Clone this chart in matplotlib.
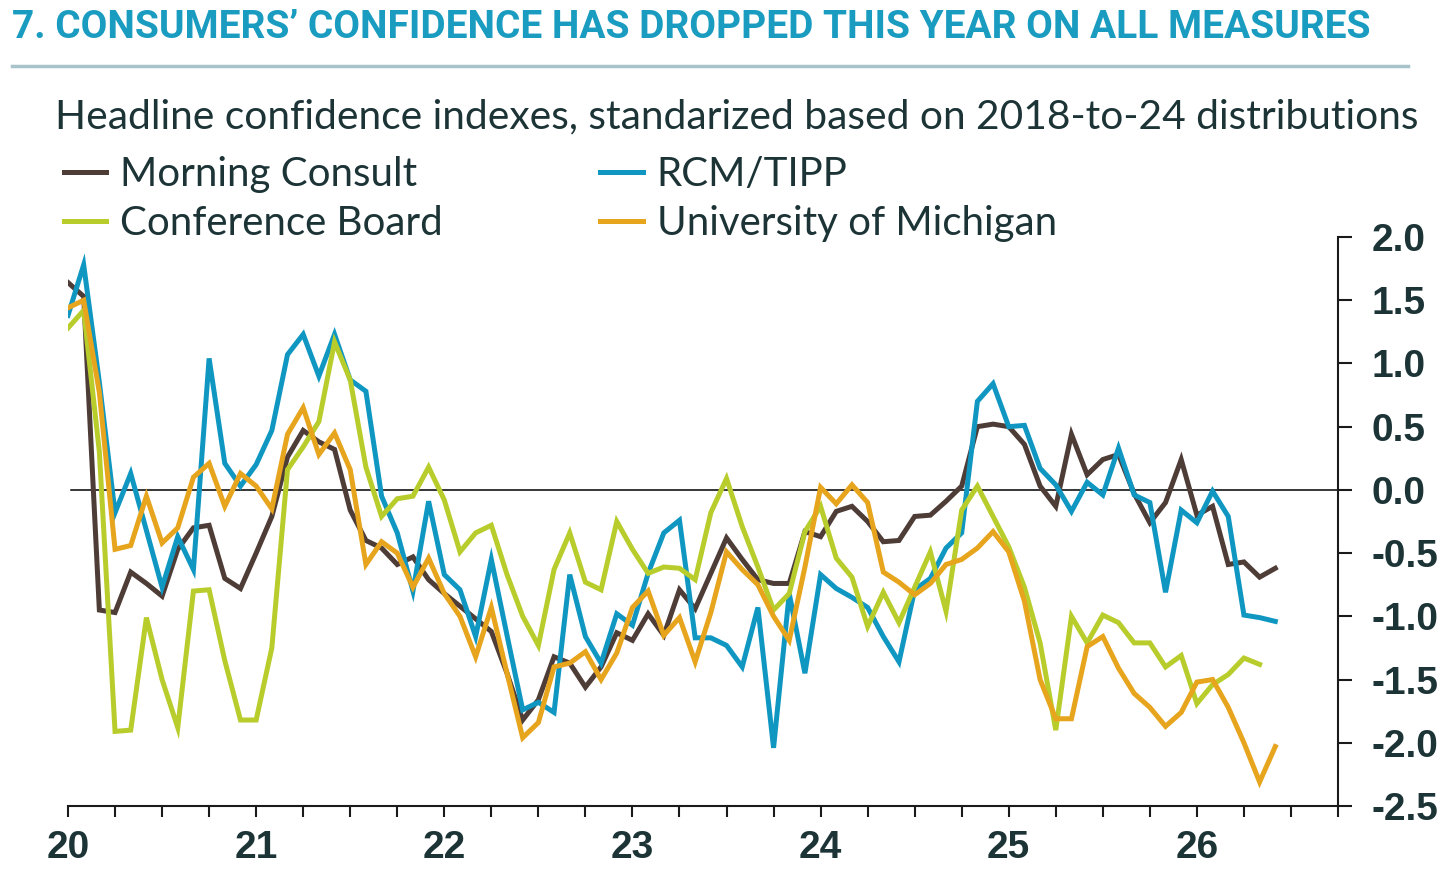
import matplotlib
matplotlib.use("Agg")
import matplotlib.pyplot as plt
import numpy as np
from matplotlib.lines import Line2D

# monthly values, Jan 2020 onwards
morning_consult = [1.64, 1.53, -0.95, -0.97, -0.65, -0.74, -0.84, -0.47, -0.30, -0.28,
                   -0.70, -0.78, -0.50, -0.21, 0.26, 0.47, 0.38, 0.32, -0.16, -0.40,
                   -0.46, -0.59, -0.53, -0.71, -0.82, -0.92, -1.02, -1.12, -1.45, -1.82,
                   -1.66, -1.32, -1.37, -1.56, -1.40, -1.13, -1.19, -0.98, -1.15, -0.79,
                   -0.94, -0.66, -0.38, -0.55, -0.71, -0.74, -0.74, -0.33, -0.37, -0.17,
                   -0.13, -0.25, -0.41, -0.40, -0.21, -0.20, -0.09, 0.03, 0.50, 0.52,
                   0.50, 0.36, 0.03, -0.13, 0.44, 0.12, 0.24, 0.28, -0.03, -0.26,
                   -0.10, 0.24, -0.20, -0.13, -0.59, -0.57, -0.69, -0.62]

rcm_tipp = [1.38, 1.78, 0.85, -0.18, 0.13, -0.32, -0.77, -0.37, -0.63, 1.04,
            0.21, 0.03, 0.20, 0.47, 1.07, 1.23, 0.90, 1.23, 0.87, 0.78,
            -0.05, -0.34, -0.80, -0.09, -0.67, -0.79, -1.16, -0.55, -1.15, -1.74,
            -1.68, -1.76, -0.67, -1.16, -1.37, -0.98, -1.07, -0.66, -0.34, -0.24,
            -1.17, -1.17, -1.23, -1.40, -0.93, -2.04, -0.82, -1.45, -0.67, -0.78,
            -0.85, -0.93, -1.16, -1.36, -0.79, -0.70, -0.46, -0.34, 0.70, 0.84,
            0.50, 0.51, 0.17, 0.04, -0.17, 0.06, -0.04, 0.33, -0.04, -0.10,
            -0.81, -0.16, -0.26, -0.01, -0.21, -0.99, -1.01, -1.04]

conference_board = [1.28, 1.42, 0.30, -1.91, -1.90, -1.01, -1.50, -1.88, -0.80, -0.79,
                    -1.35, -1.82, -1.82, -1.25, 0.16, 0.34, 0.54, 1.17, 0.87, 0.18,
                    -0.21, -0.07, -0.05, 0.18, -0.08, -0.49, -0.34, -0.28, -0.67, -1.00,
                    -1.23, -0.63, -0.34, -0.73, -0.79, -0.25, -0.47, -0.66, -0.61, -0.62,
                    -0.71, -0.18, 0.09, -0.29, -0.61, -0.95, -0.82, -0.33, -0.13, -0.54,
                    -0.69, -1.08, -0.81, -1.05, -0.77, -0.49, -0.96, -0.16, 0.03, -0.21,
                    -0.45, -0.77, -1.21, -1.90, -1.00, -1.21, -0.99, -1.05, -1.21, -1.21,
                    -1.40, -1.31, -1.69, -1.54, -1.46, -1.33, -1.38]

michigan = [1.44, 1.50, 0.77, -0.47, -0.44, -0.05, -0.42, -0.30, 0.10, 0.21,
            -0.13, 0.13, 0.03, -0.15, 0.44, 0.65, 0.28, 0.45, 0.16, -0.59,
            -0.41, -0.50, -0.77, -0.54, -0.82, -1.00, -1.32, -0.93, -1.45, -1.96,
            -1.84, -1.40, -1.37, -1.28, -1.50, -1.29, -0.93, -0.80, -1.15, -1.01,
            -1.36, -0.97, -0.49, -0.63, -0.75, -1.00, -1.19, -0.61, 0.02, -0.11,
            0.04, -0.10, -0.65, -0.73, -0.83, -0.74, -0.59, -0.55, -0.46, -0.33,
            -0.49, -0.88, -1.50, -1.81, -1.81, -1.24, -1.16, -1.41, -1.61, -1.72,
            -1.87, -1.76, -1.52, -1.50, -1.72, -2.00, -2.31, -2.03]

series = [
    ("Morning Consult", morning_consult, "#4e3c37"),
    ("RCM/TIPP", rcm_tipp, "#0f97c2"),
    ("Conference Board", conference_board, "#b8cd2c"),
    ("University of Michigan", michigan, "#e7a41d"),
]

y_ticks = [2.0, 1.5, 1.0, 0.5, 0.0, -0.5, -1.0, -1.5, -2.0, -2.5]

txt = "#1d3437"
title_col = "#1a9cc0"
W, H = 1456, 874

fig = plt.figure(figsize=(14.56, 8.74), dpi=100)
renderer = fig.canvas.get_renderer()


def fit_width(t, px):
    # shrink/grow a text so it spans px pixels
    w = t.get_window_extent(renderer).width
    t.set_fontsize(t.get_fontsize() * px / w)


ax = fig.add_axes([68 / W, 1 - 806 / H, (1338 - 68) / W, (806 - 237) / H])

for name, vals, col in series:
    x = 20 + np.arange(len(vals)) / 12
    ax.plot(x, vals, color=col, lw=3.6, label=name, solid_joinstyle="miter")

ax.axhline(0, color="black", lw=1.1, xmin=0.002, zorder=1)

ax.set_xlim(20, 26.75)
ax.set_ylim(-2.5, 2.0)
ax.spines["top"].set_visible(False)
ax.spines["left"].set_visible(False)
for s in ("bottom", "right"):
    ax.spines[s].set_linewidth(1.5)
    ax.spines[s].set_color("#1a1a1a")

xt = np.arange(20, 26.76, 0.25)
ax.set_xticks(xt)
ax.set_xticklabels([str(int(t)) if float(t).is_integer() else "" for t in xt])
ax.yaxis.tick_right()
ax.set_yticks(y_ticks)
ax.set_yticklabels([f"{v:.1f}" for v in y_ticks])
ax.tick_params(axis="x", length=8, width=1.5, pad=9, labelsize=28, labelcolor=txt, color="#1a1a1a")
ax.tick_params(axis="y", length=10, width=1.5, pad=14, labelsize=28, labelcolor=txt, color="#1a1a1a")
for lab in ax.get_xticklabels() + ax.get_yticklabels():
    lab.set_family(["Liberation Sans", "DejaVu Sans"])
    lab.set_fontweight("bold")

# header
title = fig.text(12 / W, 1 - 28 / H, "7. CONSUMERS\u2019 CONFIDENCE HAS DROPPED THIS YEAR ON ALL MEASURES",
                 color=title_col, fontsize=25, fontweight="bold", va="center", ha="left",
                 family=["Roboto", "DejaVu Sans"])
fit_width(title, 1363)
fig.add_artist(Line2D([12 / W, 1408 / W], [1 - 66 / H, 1 - 66 / H], color="#a8c3cb", lw=2.5))
sub = fig.text(55 / W, 1 - 117 / H,
               "Headline confidence indexes, standarized based on 2018-to-24 distributions",
               color=txt, fontsize=24, va="center", ha="left", family=["Lato", "DejaVu Sans"])
fit_width(sub, 1365)

handles, labels = ax.get_legend_handles_labels()
order = [0, 2, 1, 3]
leg = fig.legend([handles[i] for i in order], [labels[i] for i in order],
                 loc="upper left", bbox_to_anchor=(64 / W, 1 - 156 / H), ncol=2,
                 frameon=False, handlelength=1.05, handletextpad=0.35,
                 columnspacing=3.9, labelspacing=0.3, borderaxespad=0, borderpad=0,
                 prop={"family": ["Lato", "DejaVu Sans"], "size": 29})
for t in leg.get_texts():
    t.set_color(txt)

fig.savefig("out.png", dpi=100, facecolor="white")
